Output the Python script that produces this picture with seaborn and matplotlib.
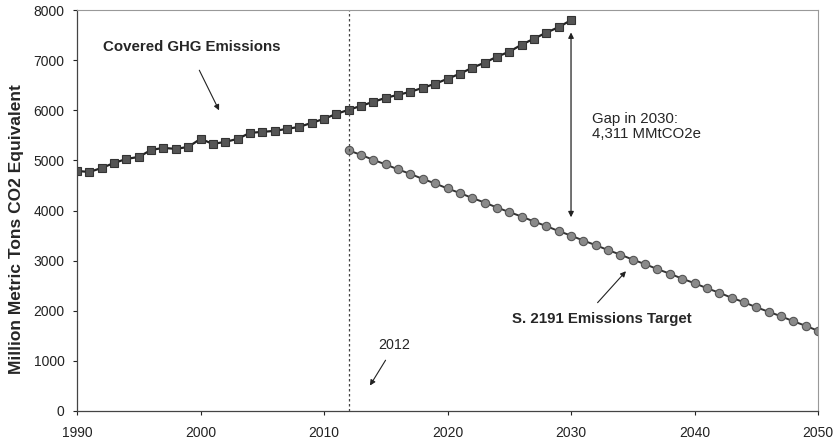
import numpy as np
import pandas as pd
import seaborn as sns
import matplotlib.pyplot as plt

# covered GHG emissions, 1990-2030 (MMtCO2e)
covered_years = list(range(1990, 2031))
covered_vals = [4790, 4770, 4850, 4950, 5030, 5070, 5210, 5250, 5230, 5270,
                5430, 5330, 5370, 5430, 5550, 5570, 5590, 5630, 5670, 5750,
                5830, 5930, 6010, 6090, 6170, 6250, 6310, 6370, 6450, 6530,
                6630, 6730, 6850, 6950, 7070, 7170, 7310, 7430, 7550, 7660,
                7800]

# S. 2191 target, 2012-2050
target_years = list(range(2012, 2051))
target_vals = [5200, 5110, 5010, 4920, 4820, 4730, 4630, 4540, 4440, 4350,
               4250, 4160, 4060, 3970, 3880, 3780, 3690, 3590, 3500,
               3400, 3310, 3210, 3120, 3020, 2930, 2830, 2740, 2640, 2550,
               2450, 2360, 2260, 2170, 2070, 1980, 1890, 1790, 1700, 1600]

df_cov = pd.DataFrame({"year": covered_years, "val": covered_vals})
df_tgt = pd.DataFrame({"year": target_years, "val": target_vals})

sns.set_style("white")
plt.rcParams['font.family'] = ['Liberation Sans', 'DejaVu Sans']

fig = plt.figure(figsize=(8.33, 4.4), dpi=100)
ax = fig.add_axes([0.0925, 0.066, 0.8895, 0.911])

sns.lineplot(data=df_cov, x="year", y="val", ax=ax, color="#222222", lw=1.6,
             marker="s", markersize=5.8, markerfacecolor="#555555",
             markeredgecolor="#333333", markeredgewidth=0.8)
sns.lineplot(data=df_tgt, x="year", y="val", ax=ax, color="#333333", lw=1.4,
             marker="o", markersize=6, markerfacecolor="#8a8a8a",
             markeredgecolor="#555555", markeredgewidth=0.8)

ax.axvline(2012, color="#444444", lw=0.9, ls=(0, (2, 2)))

ax.set_xlim(1990, 2050)
ax.set_ylim(0, 8000)
ax.set_xticks(range(1990, 2051, 10))
ax.set_yticks(range(0, 8001, 1000))
ax.tick_params(axis="both", labelsize=10, colors="#222222", length=3,
               direction="out", bottom=True, left=True)
ax.tick_params(axis="x", pad=8)
ax.tick_params(axis="y", pad=6)
ax.set_xlabel("")
ax.set_ylabel("Million Metric Tons CO2 Equivalent", fontsize=12.5,
              fontweight="bold")
ax.yaxis.set_label_coords(-0.071, 0.455)

for s in ["left", "bottom"]:
    ax.spines[s].set_color("#444444")
    ax.spines[s].set_linewidth(0.9)
for s in ["top", "right"]:
    ax.spines[s].set_color("#999999")
    ax.spines[s].set_linewidth(0.8)
    ax.spines[s].set_linestyle((0, (1, 1)))

arrow = dict(arrowstyle="-|>", color="#222222", lw=0.8, mutation_scale=8)

ax.annotate("", xy=(2001.6, 5950), xytext=(1999.8, 6850), arrowprops=arrow)
ax.text(1999.3, 7270, "Covered GHG Emissions", fontsize=10.8, fontweight="bold",
        ha="center", va="center")

ax.annotate("", xy=(2013.6, 460), xytext=(2015.1, 1060), arrowprops=arrow)
ax.text(2014.4, 1320, "2012", fontsize=10.3, ha="left", va="center")

ax.annotate("", xy=(2030, 3810), xytext=(2030, 7610),
            arrowprops=dict(arrowstyle="<|-|>", color="#222222", lw=0.9,
                            mutation_scale=8))
ax.text(2031.7, 5670, "Gap in 2030:\n4,311 MMtCO2e", fontsize=10.8,
        ha="left", va="center", linespacing=1.1)

ax.annotate("", xy=(2034.6, 2830), xytext=(2032.0, 2120), arrowprops=arrow)
ax.text(2032.5, 1840, "S. 2191 Emissions Target", fontsize=10.8,
        fontweight="bold", ha="center", va="center")

plt.savefig("out.png", dpi=100)
